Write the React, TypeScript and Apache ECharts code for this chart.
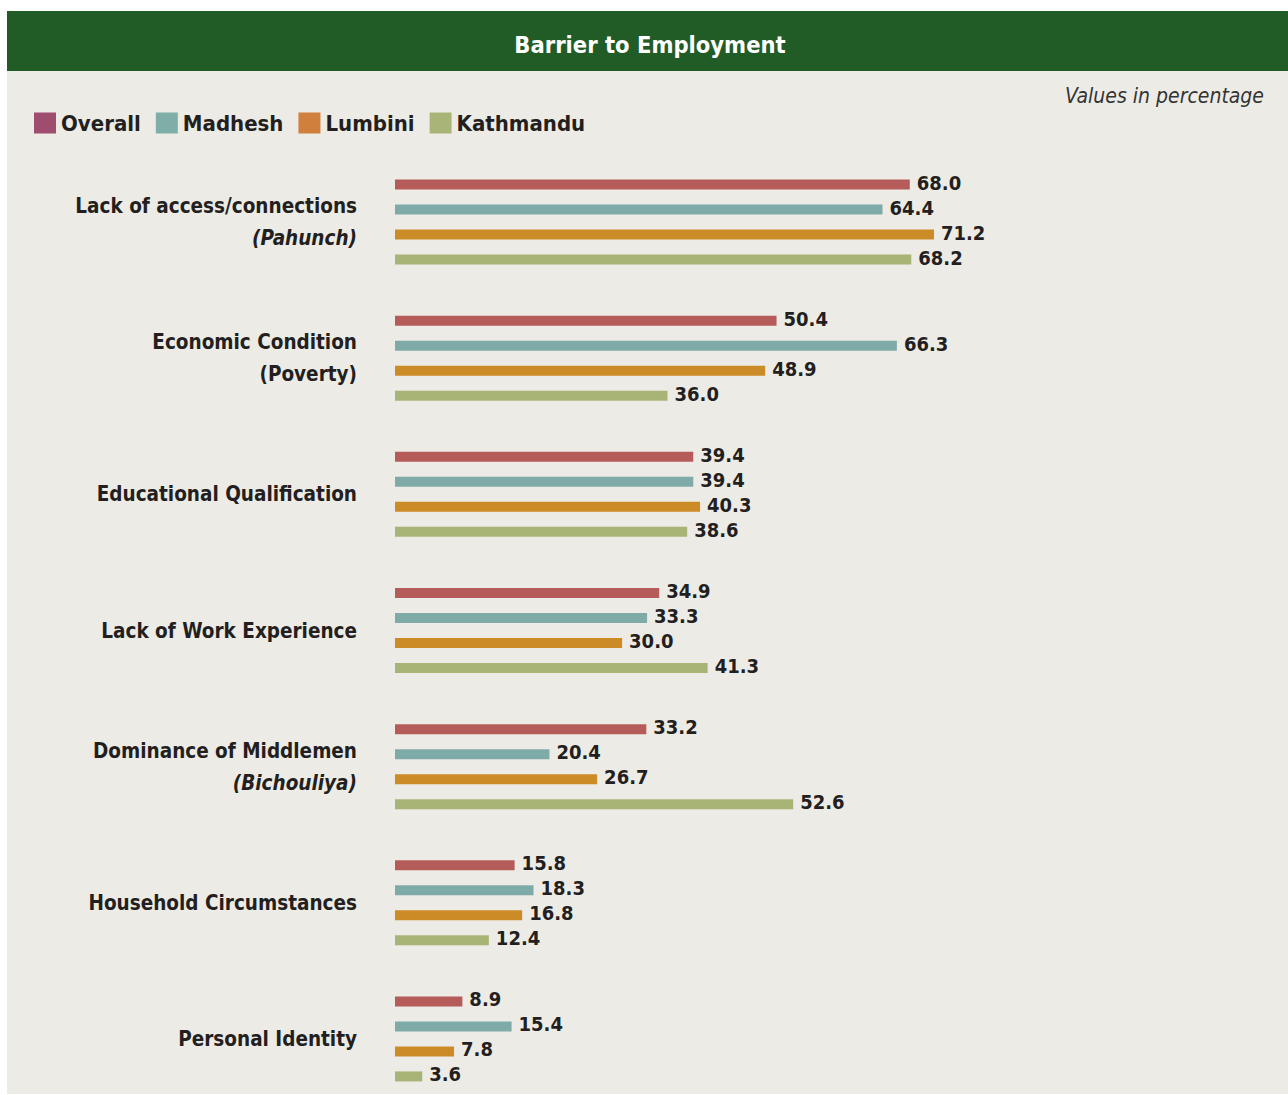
import React, { useEffect, useRef } from "react";
import * as echarts from "echarts";

const categories = [
  "Lack of access/connections",
  "Economic Condition",
  "Educational Qualification",
  "Lack of Work Experience",
  "Dominance of Middlemen",
  "Household Circumstances",
  "Personal Identity",
];
const subLabels = ["(Pahunch)", "(Poverty)", "", "", "(Bichouliya)", "", ""];
const subItalic = [true, false, false, false, true, false, false];

const seriesNames = ["Overall", "Madhesh", "Lumbini", "Kathmandu"];
const overall = [68.0, 50.4, 39.4, 34.9, 33.2, 15.8, 8.9];
const madhesh = [64.4, 66.3, 39.4, 33.3, 20.4, 18.3, 15.4];
const lumbini = [71.2, 48.9, 40.3, 30.0, 26.7, 16.8, 7.8];
const kathmandu = [68.2, 36.0, 38.6, 41.3, 52.6, 12.4, 3.6];

const barColors = ["#b55c5a", "#7eaba7", "#cb8b27", "#a8b475"];
const legendColors = ["#9e4d6e", "#7fada8", "#d07f3c", "#a9b578"];

const FONT = "'DejaVu Sans Condensed', 'Liberation Sans Narrow', 'DejaVu Sans', sans-serif";
const TEXT = "#231f20";

export default function App() {
  const ref = useRef<HTMLDivElement>(null);
  useEffect(() => {
    if (!ref.current) return;
    const chart = echarts.init(ref.current, undefined, { renderer: "svg" });
    const values = [overall, madhesh, lumbini, kathmandu];
    chart.setOption({
      animation: false,
      backgroundColor: "#ffffff",
      textStyle: { fontFamily: FONT },
      graphic: [
        { type: "rect", z: -10, shape: { x: 7, y: 71, width: 1281, height: 1023 }, style: { fill: "#edebe6" } },
        { type: "rect", z: -10, shape: { x: 7, y: 11, width: 1281, height: 60 }, style: { fill: "#215c26" } },
        {
          type: "text", x: 650, y: 45, z: 10,
          style: { text: "Barrier to Employment", fill: "#ffffff", font: `bold 23.5px ${FONT}`, align: "center", verticalAlign: "middle" },
        },
        {
          type: "text", x: 1264, y: 96, z: 10,
          style: { text: "Values in percentage", fill: "#333333", font: `italic 21px ${FONT}`, align: "right", verticalAlign: "middle" },
        },
      ],
      legend: {
        left: 34,
        top: 112,
        padding: 0,
        icon: "rect",
        itemWidth: 22,
        itemHeight: 21,
        itemGap: 15,
        selectedMode: false,
        textStyle: { fontSize: 22, fontWeight: "bold", color: TEXT, fontFamily: FONT, padding: [3, 0, 0, 0] },
        data: seriesNames.map((n, i) => ({ name: n, itemStyle: { color: legendColors[i] } })),
      },
      grid: { left: 395, top: 154, width: 757, height: 953, containLabel: false },
      xAxis: {
        type: "value",
        min: 0,
        max: 100,
        show: false,
      },
      yAxis: {
        type: "category",
        inverse: true,
        data: categories,
        axisLine: { show: false },
        axisTick: { show: false },
        splitLine: { show: false },
        axisLabel: {
          margin: 38,
          align: "right",
          formatter: (value: string, idx: number) => {
            const sub = subLabels[idx];
            if (!sub) return `{m|${value}}`;
            return `{m|${value}}\n{${subItalic[idx] ? "i" : "p"}|${sub}}`;
          },
          rich: {
            m: { fontSize: 20.5, fontWeight: "bold", color: TEXT, fontFamily: FONT, lineHeight: 32 },
            p: { fontSize: 20.5, fontWeight: "bold", color: TEXT, fontFamily: FONT, lineHeight: 32 },
            i: { fontSize: 20.5, fontWeight: "bold", fontStyle: "italic", color: TEXT, fontFamily: FONT, lineHeight: 32 },
          },
        },
      },
      series: seriesNames.map((n, i) => ({
        name: n,
        type: "bar",
        data: values[i],
        barWidth: 10,
        barGap: "150%",
        itemStyle: { color: barColors[i] },
        label: {
          show: true,
          position: "right",
          distance: 7,
          offset: [0, -2],
          formatter: (p: any) => Number(p.value).toFixed(1),
          fontSize: 20,
          fontWeight: "bold",
          color: TEXT,
          fontFamily: FONT,
        },
      })),
    });
    return () => chart.dispose();
  }, []);
  return (
    <div style={{ position: "absolute", left: 0, top: 0, width: 1288, height: 1095, overflow: "hidden" }}>
      <div ref={ref} style={{ width: 1288, height: 1130 }} />
    </div>
  );
}
